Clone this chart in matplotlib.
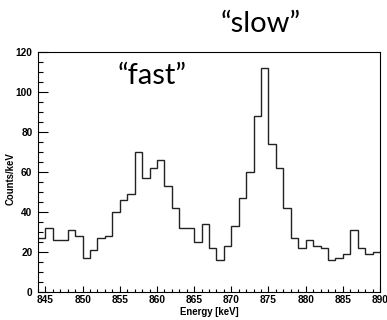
import numpy as np
import matplotlib
matplotlib.use('Agg')
import matplotlib.pyplot as plt
from matplotlib.ticker import MultipleLocator

# %% Data: counts per 1 keV bin, 844-890 keV
bin_edges = np.arange(844, 891, 1)
counts = [27, 32, 26, 26, 31, 28, 17, 21, 27, 28,
          40, 46, 49, 70, 57, 62, 66, 53, 42, 32,
          32, 25, 34, 22, 16, 23, 33, 47, 60, 88,
          112, 74, 62, 42, 27, 22, 26, 23, 22, 16,
          17, 19, 31, 22, 19, 20]
x_ticks = [845, 850, 855, 860, 865, 870, 875, 880, 885, 890]
y_ticks = [0, 20, 40, 60, 80, 100, 120]

# %% Figure
fig = plt.figure(figsize=(3.87, 3.2), dpi=100)
ax = fig.add_axes([38/387, 1 - 292.3/320, 342/387, 240/320])

ax.stairs(counts, bin_edges, color='#222222', lw=1.0, baseline=None)

ax.set_xlim(844, 890)
ax.set_ylim(0, 120)
ax.set_xticks(x_ticks)
ax.set_yticks(y_ticks)
ax.xaxis.set_minor_locator(MultipleLocator(1))
ax.yaxis.set_minor_locator(MultipleLocator(5))

ax.tick_params(axis='x', which='major', direction='in', length=4.5, width=0.8,
               top=False, pad=2)
ax.tick_params(axis='x', which='minor', direction='in', length=2.2, width=0.8, top=False)
ax.tick_params(axis='y', which='major', direction='in', length=7, width=0.8,
               right=False, pad=4)
ax.tick_params(axis='y', which='minor', direction='in', length=3.3, width=0.8, right=False)

for lab in ax.get_xticklabels() + ax.get_yticklabels():
    lab.set_fontfamily('Liberation Sans')
    lab.set_fontweight('bold')
    lab.set_fontsize(7.3)

for sp in ax.spines.values():
    sp.set_linewidth(0.8)

ax.set_xlabel('Energy [keV]', fontfamily='Liberation Sans', fontweight='bold',
              fontsize=6.9, va='center')
ax.xaxis.set_label_coords(0.5, -0.082)
ax.set_ylabel('Counts/keV', fontfamily='Liberation Sans', fontweight='bold',
              fontsize=6.9, va='center')
ax.yaxis.set_label_coords(-0.079, 0.474)

# annotations
fig.text(260.5/387, 1 - 32.3/320, '\u201cslow\u201d', fontfamily='Lato',
         fontsize=21, ha='center', va='baseline')
fig.text(152/387, 1 - 84/320, '\u201cfast\u201d', fontfamily='Lato',
         fontsize=21, ha='center', va='baseline')

fig.savefig('out.png', dpi=100)
